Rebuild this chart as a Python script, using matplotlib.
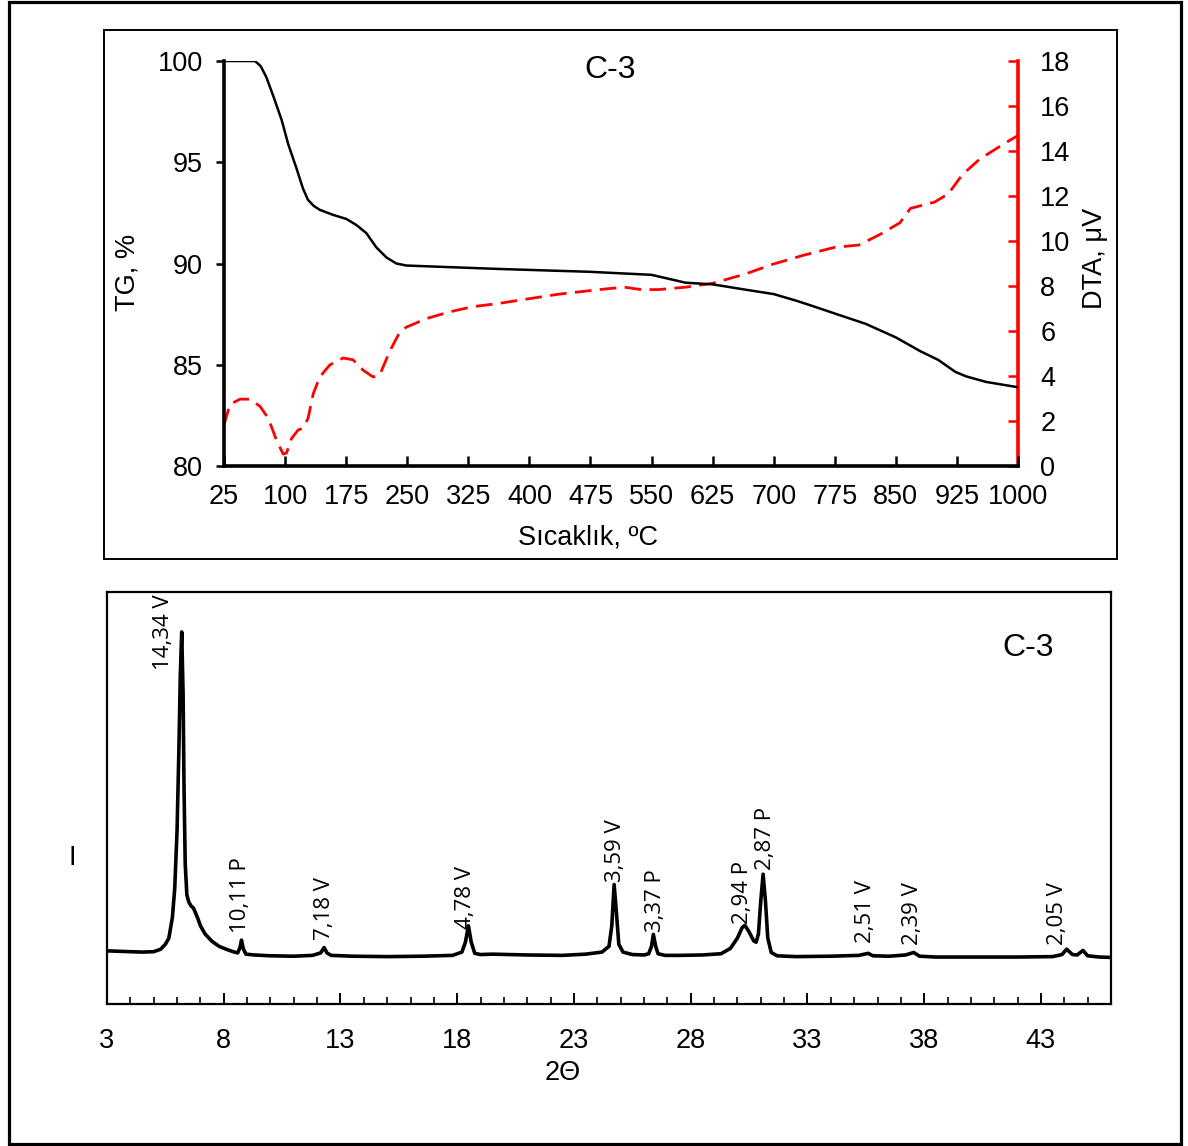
import matplotlib
matplotlib.use("Agg")
import matplotlib.pyplot as plt
from matplotlib.patches import Rectangle
from matplotlib.ticker import MultipleLocator

plt.rcParams['font.family'] = ['Liberation Sans', 'DejaVu Sans']

# ---------------- TG / DTA data ----------------
tg_temp = [25, 63, 70, 77, 85.5, 95.7, 103.8, 114, 122, 128, 135, 142.6, 159, 175.3, 187.6, 199.8,
           212, 224.4, 236.6, 248.9, 281.5, 363, 474, 550, 592, 625, 665, 700, 728, 750,
           775, 813, 850, 880, 902, 923, 936, 961, 1000]
tg_val = [100, 100, 99.75, 99.2, 98.27, 97.1, 95.9, 94.7, 93.7, 93.15, 92.85, 92.65, 92.4, 92.2, 91.9, 91.5,
          90.8, 90.3, 90.0, 89.9, 89.85, 89.73, 89.59, 89.44, 89.05, 88.97, 88.71, 88.49, 88.16, 87.87,
          87.53, 87.02, 86.35, 85.67, 85.24, 84.65, 84.43, 84.15, 83.89]

dta_temp = [25, 32.4, 44.6, 56.8, 69, 79.3, 89.5, 97.7, 101.8, 107.9, 116, 122.2, 128.3, 134.5,
            142.6, 154.9, 171.2, 183.5, 195.8, 208, 216.2, 228.5, 240.7, 248.9, 273.4, 302,
            330.5, 363.2, 404, 436.7, 485.7, 516, 537.3, 558.5, 592.5, 625, 665, 700, 737,
            775, 804.5, 830, 855, 868, 897.6, 914.5, 931.5, 952.6, 982.3, 1000]
dta_val = [1.83, 2.74, 2.97, 2.97, 2.66, 2.13, 1.14, 0.53, 0.58, 1.22, 1.6, 1.68, 2.13, 3.2,
           3.96, 4.49, 4.8, 4.72, 4.26, 3.96, 4.04, 5.1, 5.94, 6.17, 6.55, 6.85,
           7.08, 7.23, 7.46, 7.64, 7.84, 7.95, 7.84, 7.84, 7.95, 8.12, 8.53, 8.98, 9.37,
           9.72, 9.82, 10.28, 10.81, 11.45, 11.73, 12.1, 12.94, 13.63, 14.31, 14.69]

temp_ticks = list(range(25, 1001, 75))

# ---------------- XRD data ----------------
xrd_2theta = [3.0, 3.5, 4.0, 4.5, 5.0, 5.3, 5.5, 5.65, 5.8, 5.9, 6.0, 6.08, 6.14, 6.2, 6.26,
              6.3, 6.35, 6.42, 6.5, 6.6, 6.7, 6.8, 6.9, 7.0, 7.2, 7.5, 7.8, 8.1, 8.4, 8.6,
              8.7, 8.76, 8.83, 8.95, 9.3, 10.0, 11.0, 11.8, 12.15, 12.3, 12.42, 12.6, 13.5,
              15.0, 16.5, 17.8, 18.2, 18.35, 18.48, 18.6, 18.75, 19.0, 19.5, 21.0, 22.5,
              23.5, 24.2, 24.5, 24.62, 24.72, 24.82, 24.92, 25.1, 25.5, 26.0, 26.2, 26.32,
              26.4, 26.5, 26.6, 26.9, 27.5, 28.5, 29.3, 29.7, 30.0, 30.2, 30.32, 30.5, 30.7,
              30.8, 30.9, 31.0, 31.1, 31.2, 31.3, 31.45, 31.7, 32.5, 34.0, 35.2, 35.6, 35.8,
              36.5, 37.2, 37.55, 37.8, 38.5, 40.0, 42.0, 43.5, 43.9, 44.1, 44.35, 44.55,
              44.8, 45.0, 45.5, 46.0]
xrd_int = [12.9, 12.8, 12.7, 12.6, 12.7, 13.3, 14.5, 16.0, 21.0, 28.0, 42.0, 62.0, 80.0, 90.3, 75.0,
           52.0, 34.0, 26.5, 24.8, 23.8, 23.3, 22.0, 20.6, 19.0, 17.0, 15.2, 14.0, 13.3, 12.7, 12.4,
           13.8, 15.5, 13.5, 12.1, 11.9, 11.7, 11.6, 11.8, 12.4, 13.7, 12.4, 11.8, 11.6,
           11.5, 11.6, 11.8, 12.6, 15.0, 19.0, 15.0, 12.3, 12.0, 12.1, 11.9, 11.8,
           12.1, 12.6, 14.0, 19.0, 29.0, 22.0, 14.5, 12.6, 12.0, 11.9, 12.2, 14.0,
           16.9, 14.0, 12.2, 11.8, 11.8, 11.9, 12.2, 13.5, 16.0, 18.5, 19.1, 17.5, 15.3,
           15.0, 17.0, 25.0, 31.5, 25.0, 16.0, 12.5, 11.7, 11.5, 11.6, 11.8, 12.3, 11.7,
           11.6, 11.9, 12.5, 11.6, 11.4, 11.4, 11.4, 11.5, 12.0, 13.3, 12.0, 11.9,
           13.0, 11.7, 11.4, 11.3]

peak_labels = ['14,34 V', '10,11 P', '7,18 V', '4,78 V', '3,59 V', '3,37 P',
               '2,94 P', '2,87 P', '2,51 V', '2,39 V', '2,05 V']
label_x = [5.4, 8.7, 12.3, 18.35, 24.77, 26.5, 30.2, 31.2, 35.5, 37.5, 43.7]
label_y = [81, 17.2, 15.5, 18.2, 29.6, 17.5, 19.4, 32.5, 14.8, 14.3, 14.3]

xrd_ticks = list(range(3, 46, 5))

# ---------------- figure ----------------
W, H = 1188, 1146
fig = plt.figure(figsize=(W / 100, H / 100), dpi=100)

def fx(px):
    return px / W

def fy(py):
    return 1 - py / H

# outer frame
fig.add_artist(Rectangle((fx(8.5), fy(1144)), fx(1180.5) - fx(8.5), fy(1.5) - fy(1144),
                         transform=fig.transFigure, fill=False, lw=2.3, ec='black'))
# top panel frame
fig.add_artist(Rectangle((fx(104), fy(559)), fx(1117) - fx(104), fy(30) - fy(559),
                         transform=fig.transFigure, fill=False, lw=1.4, ec='black'))

FS = 19.5

# ---------- top chart ----------
ax = fig.add_axes([fx(224), fy(466), fx(1018) - fx(224), fy(61) - fy(466)])
ax.plot(tg_temp, tg_val, color='black', lw=1.8, zorder=3)
ax.set_xlim(25, 1000)
ax.set_ylim(80, 100)
ax.set_xticks(temp_ticks)
ax.yaxis.set_major_locator(MultipleLocator(5))
ax.tick_params(axis='x', direction='in', length=7, width=1.8, labelsize=FS, pad=13)
ax.tick_params(axis='y', direction='out', length=6, width=1.8, labelsize=FS, pad=9)
for s in ['top', 'right']:
    ax.spines[s].set_visible(False)
ax.spines['left'].set_linewidth(2.6)
ax.spines['bottom'].set_linewidth(2.6)
ax.patch.set_alpha(0)

ax2 = ax.twinx()
ax2.plot(dta_temp, dta_val, color='#ff0000', lw=2.0, dashes=(6, 3), zorder=2)
ax2.set_ylim(0, 18)
ax2.yaxis.set_major_locator(MultipleLocator(2))
ax2.tick_params(axis='y', direction='in', length=7, width=1.8, colors='#ff0000',
                labelcolor='black', labelsize=FS, pad=16)
for s in ['top', 'left', 'bottom']:
    ax2.spines[s].set_visible(False)
ax2.spines['right'].set_color('#ff0000')
ax2.spines['right'].set_linewidth(2.6)
ax.set_zorder(ax2.get_zorder() + 1)

ax.text(0.486, 0.978, 'C-3', transform=ax.transAxes, ha='center', va='center', fontsize=23)
fig.text(fx(127), fy(272), 'TG, %', rotation=90, ha='center', va='center', fontsize=FS)
fig.text(fx(1095), fy(258), 'DTA, μV', rotation=90, ha='center', va='center', fontsize=FS)
fig.text(fx(588), fy(537), 'Sıcaklık, ºC', ha='center', va='center', fontsize=FS)

# ---------- bottom chart ----------
bx = fig.add_axes([fx(107), fy(1004), fx(1111) - fx(107), fy(592) - fy(1004)])
bx.plot(xrd_2theta, xrd_int, color='black', lw=2.6, solid_joinstyle='round')
bx.set_xlim(3, 46)
bx.set_ylim(0, 100)
bx.set_xticks(xrd_ticks)
bx.xaxis.set_minor_locator(MultipleLocator(1))
bx.set_yticks([])
bx.tick_params(axis='x', which='major', direction='in', length=8, width=1.4, labelsize=FS, pad=17)
bx.tick_params(axis='x', which='minor', direction='in', length=5, width=1.2)
for s in bx.spines.values():
    s.set_linewidth(1.6)

for lab, x, y in zip(peak_labels, label_x, label_y):
    bx.text(x, y, lab, rotation=90, ha='center', va='bottom', fontsize=16,
            family=['Open Sans', 'DejaVu Sans'])

bx.text(0.917, 0.865, 'C-3', transform=bx.transAxes, ha='center', va='center', fontsize=23)
fig.text(fx(563), fy(1073), '2Θ', ha='center', va='center', fontsize=FS)
fig.text(fx(72), fy(858), 'I', ha='center', va='center', fontsize=FS)

fig.savefig('out.png', dpi=100)
